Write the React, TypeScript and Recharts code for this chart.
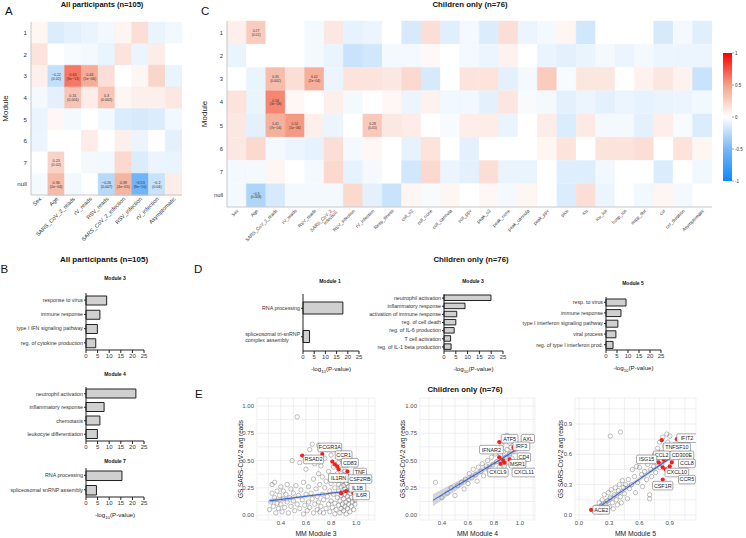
import React from 'react';
import {
  BarChart, Bar, XAxis, YAxis, Cell, LabelList, ComposedChart, Scatter, Line, Area, CartesianGrid,
} from 'recharts';

const FONT = '"Liberation Sans", Arial, Helvetica, sans-serif';

// ---------------- Heatmap data ----------------
const modules = ['1', '2', '3', '4', '5', '6', '7', 'null'];

const traitsA = ['Sex', 'Age', 'SARS_CoV_2_reads', 'rV_reads', 'RSV_reads', 'SARS_CoV_2_infection', 'RSV_infection', 'rV_infection', 'Asymptomatic'];
const corrA = [
  [0.05, -0.13, -0.1, -0.08, -0.05, 0.06, 0.17, -0.08, -0.05],
  [0.15, 0, -0.03, -0.04, -0.08, 0.15, -0.07, 0.1, 0],
  [0.08, -0.22, 0.63, 0.43, 0.17, 0, 0.05, 0.22, -0.08],
  [-0.04, -0.1, 0.31, 0.1, 0.3, 0.05, 0.08, 0.08, 0.12],
  [-0.08, 0.04, -0.04, 0, -0.05, -0.13, -0.15, -0.13, -0.05],
  [-0.07, 0, 0, 0.1, 0, 0.08, -0.07, 0, -0.1],
  [0, 0.23, 0, -0.04, -0.05, 0.2, -0.13, -0.07, -0.08],
  [-0.04, 0.36, -0.05, -0.01, -0.26, 0.39, -0.53, -0.2, 0.1],
];
const annotA = [
  { m: '3', t: 'Age', r: '−0.22', p: '(0.02)' },
  { m: '3', t: 'SARS_CoV_2_reads', r: '0.63', p: '(6e−13)' },
  { m: '3', t: 'rV_reads', r: '0.43', p: '(5e−06)' },
  { m: '4', t: 'SARS_CoV_2_reads', r: '0.31', p: '(0.001)' },
  { m: '4', t: 'RSV_reads', r: '0.3', p: '(0.002)' },
  { m: '7', t: 'Age', r: '0.23', p: '(0.02)' },
  { m: 'null', t: 'Age', r: '0.36', p: '(2e−04)' },
  { m: 'null', t: 'RSV_reads', r: '−0.26', p: '(0.007)' },
  { m: 'null', t: 'SARS_CoV_2_infection', r: '0.39', p: '(4e−05)' },
  { m: 'null', t: 'RSV_infection', r: '−0.53', p: '(9e−10)' },
  { m: 'null', t: 'rV_infection', r: '−0.2', p: '(0.04)' },
];

const traitsC = ['Sex', 'Age', 'SARS_CoV_2_reads', 'rV_reads', 'RSV_reads', 'SARS_CoV_2_\ninfection', 'RSV_infection', 'rV_infection', 'Resp_illness', 'coll_o2', 'coll_none', 'coll_cannula', 'coll_ppv', 'peak_o2', 'peak_none', 'peak_cannula', 'peak_ppv', 'picu', 'icu', 'icu_los', 'hosp_los', 'supp_dur', 'cxr', 'cxr_duration', 'Asymptomatic'];
const corrC = [
  [0.08, 0.27, 0, 0, -0.04, 0.12, -0.09, -0.07, 0, -0.15, 0.17, -0.11, -0.04, -0.13, 0.17, -0.07, -0.04, 0.05, -0.17, 0, 0, 0, -0.15, -0.04, -0.11],
  [-0.08, 0, 0, 0, -0.04, -0.08, -0.2, -0.17, -0.04, -0.04, 0.03, 0, -0.04, -0.07, 0.07, 0, -0.08, -0.1, -0.08, -0.04, -0.07, -0.04, -0.07, -0.07, -0.07],
  [0, -0.08, 0.35, 0.17, 0.42, -0.07, 0.15, 0.15, 0.12, 0.2, -0.15, 0, 0.15, 0.15, -0.1, -0.04, 0.27, -0.03, 0.13, 0.13, 0, 0.07, 0.13, 0.07, -0.2],
  [0.15, -0.08, 0.58, 0.04, 0, 0.08, -0.04, 0, 0.04, -0.07, 0.07, -0.05, -0.05, -0.1, 0.13, -0.03, -0.04, -0.1, -0.07, -0.1, -0.07, -0.09, -0.08, -0.07, -0.05],
  [0.12, -0.1, 0.41, 0.52, 0.08, -0.07, 0, 0.28, 0.12, 0.1, 0, -0.03, 0.09, 0.1, -0.08, 0, 0.1, -0.13, 0.11, -0.04, -0.04, -0.1, 0.09, -0.03, -0.13],
  [0.12, 0.2, -0.04, -0.07, -0.09, 0.17, -0.04, 0.04, 0, -0.09, 0.15, 0, -0.1, 0, 0, 0, 0.05, 0.15, 0, 0.15, 0.15, 0.17, 0, 0.14, 0.05],
  [-0.04, -0.04, 0.05, 0, -0.04, 0.2, -0.09, -0.04, 0, -0.17, 0.2, -0.07, -0.1, 0.17, -0.08, -0.08, 0, -0.12, -0.12, -0.05, 0, 0, -0.13, 0, -0.05],
  [-0.04, -0.3, -0.15, -0.04, -0.04, -0.04, 0.2, -0.1, -0.2, 0.05, -0.03, 0.05, 0, 0.04, -0.04, 0.05, 0, -0.13, 0.17, -0.07, 0, -0.05, 0.05, -0.04, 0],
];
const annotC = [
  { m: '1', t: 'Age', r: '0.27', p: '(0.02)' },
  { m: '3', t: 'SARS_CoV_2_reads', r: '0.35', p: '(0.002)' },
  { m: '3', t: 'RSV_reads', r: '0.42', p: '(2e−04)' },
  { m: '4', t: 'SARS_CoV_2_reads', r: '0.58', p: '(3e−08)' },
  { m: '5', t: 'SARS_CoV_2_reads', r: '0.41', p: '(7e−04)' },
  { m: '5', t: 'rV_reads', r: '0.52', p: '(1e−06)' },
  { m: '5', t: 'rV_infection', r: '0.28', p: '(0.01)' },
  { m: 'null', t: 'Age', r: '−0.3', p: '(0.008)' },
];

const colorbarTicks = [-1, -0.5, 0, 0.5, 1];

// ---------------- GO enrichment data ----------------
const b3Terms = ['response to virus', 'immune response', 'type I IFN signaling pathway', 'reg. of cytokine production'];
const b3Vals = [8.9, 6.0, 4.9, 4.2];
const b4Terms = ['neutrophil activation', 'inflammatory response', 'chemotaxis', 'leukocyte differentiation'];
const b4Vals = [21.5, 7.8, 6.0, 4.9];
const b7Terms = ['RNA processing', 'spliceosomal snRNP assembly'];
const b7Vals = [15.5, 4.5];
const d1Terms = ['RNA processing', 'spliceosomal tri-snRNP\ncomplex assembly'];
const d1Vals = [17.8, 2.9];
const d3Terms = ['neutrophil activation', 'inflammatory response', 'activation of immune response', 'reg. of cell death', 'reg. of IL-6 production', 'T cell activation', 'reg. of IL-1 beta production'];
const d3Vals = [19.9, 8.9, 5.4, 5.0, 4.3, 2.8, 3.0];
const d5Terms = ['resp. to virus', 'immune response', 'type I interferon signaling pathway', 'viral process', 'reg. of  type I interferon prod.'];
const d5Vals = [9.1, 6.8, 5.4, 4.5, 3.2];
const goTicks = [0, 5, 10, 15, 20, 25];

// ---------------- Scatter data ----------------
const e1Points: [number, number][] = [
  [0.31, 0.05], [0.32, 0.12], [0.33, 0.2], [0.33, 0.28], [0.34, 0.08], [0.35, 0.16], [0.35, 0.3], [0.36, 0.02], [0.37, 0.11], [0.37, 0.22],
  [0.38, 0.06], [0.39, 0.18], [0.4, 0.26], [0.4, 0.1], [0.41, 0.03], [0.42, 0.15], [0.42, 0.22], [0.43, 0.07], [0.44, 0.19], [0.45, 0.12],
  [0.45, 0.28], [0.46, 0.02], [0.47, 0.16], [0.48, 0.08], [0.48, 0.24], [0.49, 0.5], [0.5, 0.13], [0.5, 0.2], [0.51, 0.04], [0.52, 0.27],
  [0.53, 0.9], [0.53, 0.1], [0.54, 0.18], [0.55, 0.48], [0.55, 0.06], [0.56, 0.23], [0.57, 0.14], [0.58, 0.01], [0.58, 0.3], [0.59, 0.09],
  [0.6, 0.19], [0.6, 0.42], [0.61, 0.04], [0.62, 0.26], [0.62, 0.12], [0.63, 0.6], [0.63, 0.07], [0.64, 0.2], [0.65, 0.65], [0.65, 0.15],
  [0.66, 0.02], [0.66, 0.33], [0.67, 0.47], [0.67, 0.1], [0.68, 0.24], [0.69, 0.05], [0.69, 0.17], [0.7, 0.64], [0.7, 0.38], [0.7, 0.12],
  [0.71, 0.03], [0.71, 0.28], [0.72, 0.45], [0.72, 0.08], [0.73, 0.19], [0.73, 0.35], [0.74, 0.02], [0.74, 0.14], [0.75, 0.52], [0.75, 0.25],
  [0.76, 0.06], [0.76, 0.31], [0.77, 0.6], [0.77, 0.17], [0.78, 0.1], [0.78, 0.4], [0.79, 0.22], [0.79, 0.03], [0.8, 0.55], [0.8, 0.13],
  [0.8, 0.29], [0.81, 0.07], [0.81, 0.36], [0.82, 0.19], [0.82, 0.44], [0.83, 0.01], [0.83, 0.25], [0.83, 0.11], [0.84, 0.32], [0.84, 0.05],
  [0.85, 0.16], [0.85, 0.38], [0.86, 0.09], [0.86, 0.22], [0.86, 0.28], [0.87, 0.02], [0.87, 0.13], [0.87, 0.35], [0.88, 0.18], [0.88, 0.06],
  [0.88, 0.26], [0.88, 0.42], [0.89, 0.1], [0.89, 0.31], [0.89, 0.21], [0.9, 0.04], [0.9, 0.15], [0.9, 0.27], [0.9, 0.37], [0.91, 0.08],
  [0.91, 0.19], [0.91, 0.24], [0.91, 0.33], [0.92, 0.12], [0.92, 0.01], [0.92, 0.29], [0.92, 0.45], [0.93, 0.06], [0.93, 0.17], [0.93, 0.22],
  [0.93, 0.35], [0.94, 0.1], [0.94, 0.26], [0.94, 0.14], [0.95, 0.03], [0.95, 0.2], [0.95, 0.31], [0.96, 0.08], [0.96, 0.16], [0.96, 0.24],
  [0.97, 0.12], [0.97, 0.28], [0.98, 0.05], [0.98, 0.21], [0.99, 0.14], [0.99, 0.1], [1.0, 0.18], [0.89, 0.5], [0.86, 0.48], [0.91, 0.4],
];
const e1Fit = [
  { x: 0.31, fit: 0.13, band: [0.11, 0.15] },
  { x: 0.6, fit: 0.172, band: [0.16, 0.184] },
  { x: 0.97, fit: 0.225, band: [0.212, 0.238] },
];
const e1Genes = [
  { gene: 'RSAD2', x: 0.57, y: 0.545, lx: 0.66, ly: 0.51 },
  { gene: 'FCGR3A', x: 0.73, y: 0.56, lx: 0.79, ly: 0.62 },
  { gene: 'CCR1', x: 0.81, y: 0.49, lx: 0.9, ly: 0.55 },
  { gene: 'CD83', x: 0.83, y: 0.465, lx: 0.95, ly: 0.48 },
  { gene: 'TNF', x: 0.93, y: 0.4, lx: 1.03, ly: 0.39 },
  { gene: 'IL1RN', x: 0.85, y: 0.445, lx: 0.86, ly: 0.34 },
  { gene: 'CSF2RB', x: 0.86, y: 0.42, lx: 1.03, ly: 0.33 },
  { gene: 'IL1B', x: 0.92, y: 0.22, lx: 1.01, ly: 0.25 },
  { gene: 'IL6R', x: 0.98, y: 0.2, lx: 1.04, ly: 0.18 },
  { gene: '', x: 0.88, y: 0.2, lx: 0.88, ly: 0.2 },
];

const e2Points: [number, number][] = [
  [0.35, 0.3], [0.4, 0.16], [0.44, 0.2], [0.47, 0.25], [0.5, 0.18], [0.52, 0.27], [0.55, 0.3], [0.57, 0.24], [0.58, 0.33], [0.6, 0.29],
  [0.61, 0.38], [0.63, 0.34], [0.64, 0.42], [0.66, 0.37], [0.67, 0.31], [0.68, 0.44], [0.7, 0.4], [0.71, 0.47], [0.72, 0.36], [0.74, 0.45],
  [0.75, 0.5], [0.76, 0.41], [0.78, 0.53], [0.79, 0.46], [0.8, 0.39], [0.81, 0.56], [0.82, 0.49], [0.83, 0.6], [0.84, 0.44], [0.85, 0.55],
  [0.86, 0.64], [0.86, 0.5], [0.87, 0.58], [0.88, 0.68], [0.88, 0.45], [0.89, 0.53], [0.9, 0.73], [0.9, 0.6], [0.91, 0.48], [0.92, 0.66],
  [0.92, 0.56], [0.93, 0.62], [0.94, 0.52], [0.95, 0.7], [0.96, 0.58], [0.97, 0.64],
];
const e2Fit = [
  { x: 0.33, fit: 0.135, band: [0.08, 0.19] },
  { x: 0.6, fit: 0.33, band: [0.3, 0.36] },
  { x: 0.85, fit: 0.51, band: [0.49, 0.53] },
  { x: 0.97, fit: 0.6, band: [0.57, 0.63] },
];
const e2Genes = [
  { gene: 'ATF5', x: 0.84, y: 0.67, lx: 0.92, ly: 0.7 },
  { gene: 'AXL', x: 0.95, y: 0.62, lx: 1.06, ly: 0.7 },
  { gene: 'IRF3', x: 0.96, y: 0.6, lx: 1.01, ly: 0.63 },
  { gene: 'IFNAR2', x: 0.84, y: 0.53, lx: 0.78, ly: 0.6 },
  { gene: 'CD4', x: 0.92, y: 0.51, lx: 1.03, ly: 0.53 },
  { gene: 'MSR1', x: 0.88, y: 0.48, lx: 0.98, ly: 0.47 },
  { gene: 'CXCL9', x: 0.85, y: 0.47, lx: 0.83, ly: 0.39 },
  { gene: 'CXCL11', x: 0.87, y: 0.5, lx: 1.03, ly: 0.39 },
];

const e3Points: [number, number][] = [
  [0.15, 0.04], [0.17, 0.08], [0.19, 0.05], [0.2, 0.12], [0.21, 0.03], [0.22, 0.09], [0.23, 0.15], [0.24, 0.06], [0.25, 0.2], [0.26, 0.11],
  [0.27, 0.04], [0.28, 0.14], [0.29, 0.22], [0.3, 0.08], [0.31, 0.17], [0.32, 0.25], [0.33, 0.12], [0.34, 0.06], [0.35, 0.2], [0.36, 0.27],
  [0.37, 0.15], [0.38, 0.1], [0.39, 0.24], [0.4, 0.3], [0.41, 0.18], [0.42, 0.12], [0.43, 0.34], [0.44, 0.27], [0.45, 0.21], [0.46, 0.3],
  [0.48, 0.16], [0.49, 0.35], [0.5, 0.26], [0.52, 0.3], [0.53, 0.45], [0.55, 0.38], [0.56, 0.22], [0.57, 0.48], [0.58, 0.32], [0.6, 0.47],
  [0.62, 0.4], [0.63, 0.28], [0.65, 0.43], [0.67, 0.35], [0.68, 0.5], [0.7, 0.16], [0.7, 0.2], [0.71, 0.45], [0.72, 0.38], [0.73, 0.55],
  [0.74, 0.48], [0.75, 0.6], [0.76, 0.42], [0.77, 0.52], [0.78, 0.66], [0.79, 0.57], [0.8, 0.47], [0.8, 0.72], [0.81, 0.62], [0.82, 0.5],
  [0.83, 0.77], [0.84, 0.6], [0.85, 0.68], [0.86, 0.55], [0.87, 0.8], [0.87, 0.64], [0.88, 0.72], [0.89, 0.46], [0.9, 0.78], [0.9, 0.6],
  [0.91, 0.68], [0.92, 0.55], [0.93, 0.64], [0.95, 0.7], [0.31, 0.78], [0.41, 0.82],
];
const e3Fit = [
  { x: 0.2, fit: 0.08, band: [0.05, 0.11] },
  { x: 0.55, fit: 0.32, band: [0.3, 0.34] },
  { x: 0.93, fit: 0.58, band: [0.56, 0.6] },
];
const e3Genes = [
  { gene: 'IFIT2', x: 0.97, y: 0.75, lx: 1.07, ly: 0.76 },
  { gene: 'TNFSF10', x: 0.82, y: 0.74, lx: 0.97, ly: 0.67 },
  { gene: 'CCL2', x: 0.79, y: 0.52, lx: 0.82, ly: 0.59 },
  { gene: 'CD300E', x: 0.84, y: 0.545, lx: 1.02, ly: 0.59 },
  { gene: 'ISG15', x: 0.83, y: 0.47, lx: 0.67, ly: 0.55 },
  { gene: 'CCL8', x: 0.92, y: 0.52, lx: 1.07, ly: 0.51 },
  { gene: 'CXCL10', x: 0.86, y: 0.45, lx: 0.97, ly: 0.42 },
  { gene: 'CCR5', x: 0.9, y: 0.48, lx: 1.07, ly: 0.35 },
  { gene: 'CSF1R', x: 0.83, y: 0.35, lx: 0.83, ly: 0.29 },
  { gene: 'ACE2', x: 0.12, y: 0.05, lx: 0.22, ly: 0.05 },
];

// ---------------- helpers ----------------
function mix(a: number[], b: number[], t: number) {
  const c = a.map((v, i) => Math.round(v + (b[i] - v) * t));
  return `rgb(${c[0]},${c[1]},${c[2]})`;
}
const WHITE = [255, 255, 255];
const POS_MID = [244, 160, 135];
const POS_END = [255, 0, 0];
const NEG_MID = [118, 184, 245];
const NEG_END = [10, 135, 255];
function heat(v: number) {
  if (v >= 0) return v <= 0.5 ? mix(WHITE, POS_MID, v / 0.5) : mix(POS_MID, POS_END, (v - 0.5) / 0.5);
  const a = -v;
  return a <= 0.5 ? mix(WHITE, NEG_MID, a / 0.5) : mix(NEG_MID, NEG_END, (a - 0.5) / 0.5);
}

function ColTick(props: any) {
  const { x, y, payload, labels, fs } = props;
  const lab: string = labels[Math.floor(payload.value)] ?? '';
  const lines = lab.split('\n');
  return (
    <g transform={`translate(${x + 1},${y + 3})`}>
      <text transform="rotate(-45)" textAnchor="end" fontSize={fs} fill="#333" fontFamily={FONT}>
        {lines.map((l, k) => (
          <tspan key={k} x={0} dy={k === 0 ? fs * 0.35 - (lines.length - 1) * fs * 0.5 : fs}>{l}</tspan>
        ))}
      </text>
    </g>
  );
}

type Annot = { m: string; t: string; r: string; p: string };

function Heatmap(p: {
  traits: string[]; corr: number[][]; annots: Annot[]; left: number; top: number; width: number; height: number;
  margin: any; yWidth: number; xHeight: number; colFont: number; rowFont: number; annFont: number; labelX: number;
}) {
  const n = p.traits.length;
  const data = modules.map((m) => {
    const o: Record<string, any> = { module: m };
    p.traits.forEach((_, j) => { o['c' + j] = 1; });
    return o;
  });
  const ticks = p.traits.map((_, j) => j + 0.5);
  const findAnn = (i: number, j: number) => p.annots.find((a) => a.m === modules[i] && a.t === p.traits[j]);
  const border = { stroke: '#C8C8C8', strokeWidth: 1 };
  return (
    <div style={{ position: 'absolute', left: p.left, top: p.top }}>
      <BarChart layout="vertical" width={p.width} height={p.height} data={data} margin={p.margin} barCategoryGap={0} barGap={0}>
        <XAxis type="number" domain={[0, n]} ticks={ticks} interval={0} allowDataOverflow height={p.xHeight}
          axisLine={border} tickLine={false} tickSize={0} tickMargin={0}
          tick={(tp: any) => <ColTick {...tp} labels={p.traits} fs={p.colFont} />} />
        <XAxis xAxisId="top" orientation="top" type="number" domain={[0, n]} allowDataOverflow height={0} tick={false} tickLine={false} axisLine={border} />
        <YAxis type="category" dataKey="module" width={p.yWidth} interval={0} tickLine={false} tickSize={0} tickMargin={4} axisLine={border}
          tick={{ fontSize: p.rowFont, fill: '#333', fontFamily: FONT }}
          label={{
            content: (lp: any) => {
              const vb = lp.viewBox || {};
              return (
                <text transform={`translate(${(vb.x ?? 0) + p.labelX},${(vb.y ?? 0) + (vb.height ?? 0) / 2}) rotate(-90)`}
                  textAnchor="middle" fontSize={8} fill="#222" fontFamily={FONT}>Module</text>
              );
            },
          }} />
        <YAxis yAxisId="right" orientation="right" type="category" dataKey="module" width={0} tick={false} tickLine={false} axisLine={border} />
        {p.traits.map((t, j) => (
          <Bar key={t} dataKey={'c' + j} stackId="h" isAnimationActive={false}>
            {modules.map((m, i) => (
              <Cell key={m} fill={heat(p.corr[i][j])} stroke={heat(p.corr[i][j])} strokeWidth={0.4} />
            ))}
            <LabelList dataKey={'c' + j} content={(lp: any) => {
              const a = findAnn(lp.index, j);
              if (!a) return null;
              const cx = lp.x + lp.width / 2;
              const cy = lp.y + lp.height / 2;
              const f = p.annFont;
              return (
                <text x={cx} y={cy} textAnchor="middle" fontSize={f} fill="#333" fontFamily={FONT}>
                  <tspan x={cx} dy={-f * 0.2}>{a.r}</tspan>
                  <tspan x={cx} dy={f * 1.15}>{a.p}</tspan>
                </text>
              );
            }} />
          </Bar>
        ))}
      </BarChart>
    </div>
  );
}

function ColorBar() {
  const stops = [1, 0.75, 0.5, 0.25, 0, -0.25, -0.5, -0.75, -1];
  return (
    <div style={{ position: 'absolute', left: 715, top: 48 }}>
      <BarChart width={31} height={138} data={[{ name: 'cb', r: [-1, 1] }]} margin={{ top: 5, right: 0, bottom: 5, left: 8 }} barCategoryGap={0}>
        <defs>
          <linearGradient id="cbGrad" x1="0" y1="0" x2="0" y2="1">
            {stops.map((s, i) => <stop key={i} offset={`${(i / (stops.length - 1)) * 100}%`} stopColor={heat(s)} />)}
          </linearGradient>
        </defs>
        <XAxis dataKey="name" hide />
        <YAxis orientation="right" type="number" domain={[-1, 1]} ticks={colorbarTicks} interval={0} width={14}
          axisLine={false} tickSize={2} tickMargin={1} tickLine={{ stroke: '#444', strokeWidth: 0.5 }}
          tick={{ fontSize: 4.5, fill: '#333', fontFamily: FONT }} />
        <Bar dataKey="r" fill="url(#cbGrad)" isAnimationActive={false} />
      </BarChart>
    </div>
  );
}

function TermTick(props: any) {
  const { x, y, payload, fs } = props;
  const lines: string[] = String(payload.value).split('\n');
  if (lines.length === 1) {
    return <text x={x} y={y} dy={fs * 0.35} textAnchor="end" fontSize={fs} fill="#333" fontFamily={FONT}>{lines[0]}</text>;
  }
  const longest = Math.max(...lines.map((l) => l.length));
  const sx = x - longest * fs * 0.47;
  return (
    <text x={sx} y={y} textAnchor="start" fontSize={fs} fill="#333" fontFamily={FONT}>
      {lines.map((l, k) => (
        <tspan key={k} x={sx} dy={k === 0 ? fs * 0.35 - (lines.length - 1) * fs * 0.55 : fs * 1.1}>{l}</tspan>
      ))}
    </text>
  );
}

function LogLabel(lp: any) {
  const vb = lp.viewBox || {};
  const cx = (vb.x ?? 0) + (vb.width ?? 0) / 2;
  const y = (vb.y ?? 0) + 20;
  return (
    <text x={cx} y={y} textAnchor="middle" fontSize={6.2} fill="#222" fontFamily={FONT}>
      -log<tspan dy={1.6} fontSize={4.3}>10</tspan><tspan dy={-1.6}>(P-value)</tspan>
    </text>
  );
}

function GoBars(p: {
  terms: string[]; values: number[]; left: number; top: number; width: number; height: number;
  yWidth: number; xHeight: number; barSize: number; xlabel?: boolean;
}) {
  const data = p.terms.map((t, i) => ({ term: t, v: p.values[i] }));
  return (
    <div style={{ position: 'absolute', left: p.left, top: p.top }}>
      <BarChart layout="vertical" width={p.width} height={p.height} data={data} margin={{ top: 5, right: 6, bottom: 0, left: 0 }}>
        <XAxis type="number" domain={[0, 25]} ticks={goTicks} interval={0} height={p.xHeight} tickSize={3} tickMargin={1}
          axisLine={{ stroke: '#222', strokeWidth: 1 }} tickLine={{ stroke: '#222' }}
          tick={{ fontSize: 6, fill: '#333', fontFamily: FONT }}
          label={p.xlabel ? { content: LogLabel } : undefined} />
        <YAxis type="category" dataKey="term" width={p.yWidth} interval={0} tickSize={2} tickMargin={1}
          axisLine={{ stroke: '#222', strokeWidth: 1 }} tickLine={{ stroke: '#222' }}
          tick={(tp: any) => <TermTick {...tp} fs={5.3} />} />
        <Bar dataKey="v" fill="#D0D0D0" stroke="#222" strokeWidth={1} barSize={p.barSize} isAnimationActive={false} />
      </BarChart>
    </div>
  );
}

const Ring = (pr: any) => (pr.cx == null ? null :
  <circle cx={pr.cx} cy={pr.cy} r={2.2} fill="none" stroke="#555" strokeOpacity={0.6} strokeWidth={0.6} />);
const RedDot = (pr: any) => (pr.cx == null ? null : <circle cx={pr.cx} cy={pr.cy} r={2.1} fill="#FF1A1A" />);
const GeneLabel = (pr: any) => {
  if (pr.cx == null || !pr.payload?.gene) return null;
  const t: string = pr.payload.gene;
  const fs = 5.4;
  const w = t.length * fs * 0.64 + 3;
  return (
    <g>
      <rect x={pr.cx - w / 2} y={pr.cy - 4.3} width={w} height={8.6} rx={1.5} fill="#fff" fillOpacity={0.9} stroke="#555" strokeWidth={0.5} />
      <text x={pr.cx} y={pr.cy + 1.9} textAnchor="middle" fontSize={fs} fill="#222" fontFamily={FONT}>{t}</text>
    </g>
  );
};

function ScatterPanel(p: {
  left: number; width: number; xDomain: number[]; yDomain: number[]; xTicks: number[]; xMajor: number[]; xDigits: number;
  yTicks: number[]; yMajor: number[]; yDigits: number; pts: [number, number][]; fit: any[]; genes: any[]; xTitle: string; yTitleX: number;
}) {
  const pts = p.pts.map(([x, y]) => ({ x, y }));
  const reds = p.genes.map((g) => ({ x: g.x, y: g.y }));
  const labs = p.genes.map((g) => ({ x: g.lx, y: g.ly, gene: g.gene }));
  const isMajor = (arr: number[], v: number) => arr.some((m) => Math.abs(m - v) < 1e-6);
  const tickStyle = { fontSize: 6, fill: '#4D4D4D', fontFamily: FONT };
  return (
    <div style={{ position: 'absolute', left: p.left, top: 393 }}>
      <ComposedChart width={p.width} height={145} data={p.fit} margin={{ top: 5, right: 5, bottom: 0, left: 0 }}>
        <CartesianGrid stroke="#E6E6E6" strokeWidth={0.6} />
        <XAxis type="number" dataKey="x" domain={p.xDomain} ticks={p.xTicks} interval={0} allowDataOverflow
          axisLine={false} tickLine={false} height={18} tickSize={0} tickMargin={1} tick={tickStyle}
          tickFormatter={(v: number) => (isMajor(p.xMajor, v) ? v.toFixed(p.xDigits) : '')}
          label={{
            content: (lp: any) => {
              const vb = lp.viewBox || {};
              return <text x={(vb.x ?? 0) + (vb.width ?? 0) / 2} y={(vb.y ?? 0) + 15.5} textAnchor="middle" fontSize={6.8} fill="#222" fontFamily={FONT}>{p.xTitle}</text>;
            },
          }} />
        <YAxis type="number" domain={p.yDomain} ticks={p.yTicks} interval={0} allowDataOverflow width={25}
          axisLine={false} tickLine={false} tickSize={0} tickMargin={3} tick={tickStyle}
          tickFormatter={(v: number) => (isMajor(p.yMajor, v) ? v.toFixed(p.yDigits) : '')}
          label={{
            content: (lp: any) => {
              const vb = lp.viewBox || {};
              return (
                <text transform={`translate(${(vb.x ?? 0) + p.yTitleX},${(vb.y ?? 0) + (vb.height ?? 0) / 2}) rotate(-90)`}
                  textAnchor="middle" fontSize={6.4} fill="#222" fontFamily={FONT}>GS SARS-CoV-2 avg reads</text>
              );
            },
          }} />
        <Scatter data={pts} dataKey="y" shape={Ring} isAnimationActive={false} />
        <Area dataKey="band" type="linear" fill="#999999" fillOpacity={0.4} stroke="none" isAnimationActive={false} />
        <Line dataKey="fit" type="linear" stroke="#3366FF" strokeWidth={1.1} dot={false} isAnimationActive={false} />
        <Scatter data={reds} dataKey="y" shape={RedDot} isAnimationActive={false} />
        <Scatter data={labs} dataKey="y" shape={GeneLabel} isAnimationActive={false} />
      </ComposedChart>
    </div>
  );
}

export default function App() {
  const title = { fontFamily: FONT, fontWeight: 700 as const, fill: '#111' };
  return (
    <div style={{ position: 'absolute', left: 0, top: 0, width: 746, height: 538, background: '#fff', overflow: 'hidden', fontFamily: FONT }}>
      <Heatmap traits={traitsA} corr={corrA} annots={annotA} left={0} top={0} width={200} height={258}
        margin={{ top: 22, right: 18, bottom: 0, left: 0 }} yWidth={31} xHeight={63} colFont={5.6} rowFont={6.2} annFont={3.7} labelX={8} />
      <Heatmap traits={traitsC} corr={corrC} annots={annotC} left={200} top={0} width={520} height={258}
        margin={{ top: 21, right: 8, bottom: 0, left: 0 }} yWidth={27} xHeight={51} colFont={4.6} rowFont={5.8} annFont={3.4} labelX={6.5} />
      <ColorBar />

      <GoBars terms={b3Terms} values={b3Vals} left={0} top={288} width={150} height={76} yWidth={86} xHeight={14} barSize={9} />
      <GoBars terms={b4Terms} values={b4Vals} left={0} top={382} width={150} height={73} yWidth={86} xHeight={14} barSize={9} />
      <GoBars terms={b7Terms} values={b7Vals} left={0} top={463} width={150} height={62} yWidth={86} xHeight={28} barSize={9.5} xlabel />
      <GoBars terms={d1Terms} values={d1Vals} left={200} top={289} width={165} height={90} yWidth={103} xHeight={28} barSize={12} xlabel />
      <GoBars terms={d3Terms} values={d3Vals} left={340} top={289} width={169} height={90} yWidth={104} xHeight={28} barSize={5.5} xlabel />
      <GoBars terms={d5Terms} values={d5Vals} left={515} top={292} width={152} height={86} yWidth={91} xHeight={28} barSize={7} xlabel />

      <ScatterPanel left={232} width={148} xDomain={[0.21, 1.15]} yDomain={[-0.045, 1.073]}
        xTicks={[0.3, 0.4, 0.5, 0.6, 0.7, 0.8, 0.9, 1.0, 1.1]} xMajor={[0.4, 0.6, 0.8, 1.0]} xDigits={1}
        yTicks={[0, 0.125, 0.25, 0.375, 0.5, 0.625, 0.75, 0.875, 1.0]} yMajor={[0, 0.25, 0.5, 0.75, 1.0]} yDigits={2}
        pts={e1Points} fit={e1Fit} genes={e1Genes} xTitle="MM Module 3" yTitleX={11} />
      <ScatterPanel left={395} width={145} xDomain={[0.231, 1.115]} yDomain={[-0.045, 1.073]}
        xTicks={[0.3, 0.4, 0.5, 0.6, 0.7, 0.8, 0.9, 1.0, 1.1]} xMajor={[0.4, 0.6, 0.8, 1.0]} xDigits={1}
        yTicks={[0, 0.125, 0.25, 0.375, 0.5, 0.625, 0.75, 0.875, 1.0]} yMajor={[0, 0.25, 0.5, 0.75, 1.0]} yDigits={2}
        pts={e2Points} fit={e2Fit} genes={e2Genes} xTitle="MM Module 4" yTitleX={10} />
      <ScatterPanel left={550} width={151} xDomain={[-0.04, 1.16]} yDomain={[-0.05, 1.157]}
        xTicks={[0, 0.15, 0.3, 0.45, 0.6, 0.75, 0.9, 1.05]} xMajor={[0, 0.3, 0.6, 0.9]} xDigits={1}
        yTicks={[0, 0.15, 0.3, 0.45, 0.6, 0.75, 0.9, 1.05]} yMajor={[0, 0.3, 0.6, 0.9]} yDigits={1}
        pts={e3Points} fit={e3Fit} genes={e3Genes} xTitle="MM Module 5" yTitleX={13} />

      <svg width={746} height={538} style={{ position: 'absolute', left: 0, top: 0, pointerEvents: 'none' }}>
        <g fontFamily={FONT} fill="#111" fontSize={11.5}>
          <text x={5} y={15}>A</text>
          <text x={201} y={15}>C</text>
          <text x={0.5} y={273}>B</text>
          <text x={194} y={273}>D</text>
          <text x={195} y={398}>E</text>
        </g>
        <text x={102} y={7.2} textAnchor="middle" fontSize={7.5} {...title}>All participants (n=105)</text>
        <text x={470} y={7.4} textAnchor="middle" fontSize={7.8} {...title}>Children only (n=76)</text>
        <text x={104} y={262} textAnchor="middle" fontSize={8} {...title}>All participants (n=105)</text>
        <text x={471} y={261.5} textAnchor="middle" fontSize={7.8} {...title}>Children only (n=76)</text>
        <text x={465} y={391.5} textAnchor="middle" fontSize={7.8} {...title}>Children only (n=76)</text>
        <g textAnchor="middle" fontSize={5} {...title}>
          <text x={115} y={280}>Module 3</text>
          <text x={115} y={376}>Module 4</text>
          <text x={115} y={463}>Module 7</text>
          <text x={330} y={283}>Module 1</text>
          <text x={473} y={283}>Module 3</text>
          <text x={633} y={285}>Module 5</text>
        </g>
      </svg>
    </div>
  );
}
